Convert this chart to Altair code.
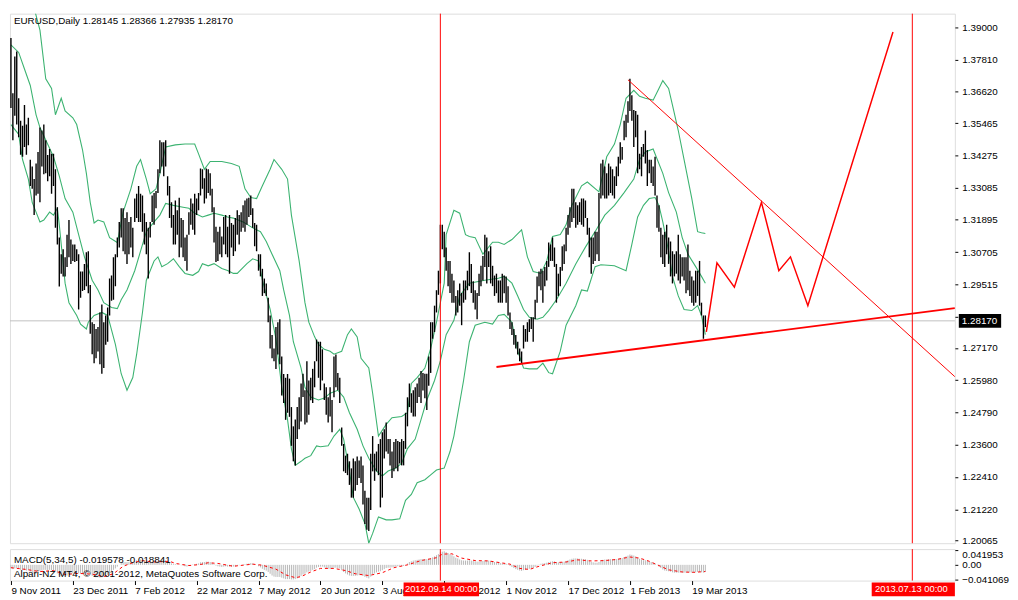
import altair as alt
import pandas as pd

TITLE = "EURUSD,Daily  1.28145 1.28366 1.27935 1.28170"
MACD_TITLE = "MACD(5,34,5) -0.019578 -0.018841"
COPYRIGHT = "Alpari-NZ MT4, \u00a9 2001-2012, MetaQuotes Software Corp."

# daily bars (bar index 0 = 9 Nov 2011)
HIGH = [1.3860, 1.3656, 1.3792, 1.3810, 1.3638, 1.3555, 1.3537, 1.3613, 1.3541, 1.3566,
        1.3411, 1.3386, 1.3340, 1.3397, 1.3440, 1.3530, 1.3519, 1.3541, 1.3483, 1.3429,
        1.3451, 1.3433, 1.3433, 1.3376, 1.3236, 1.3124, 1.3063, 1.3081, 1.3052, 1.3135,
        1.3189, 1.3117, 1.3099, 1.3099, 1.3081, 1.3063, 1.2999, 1.2999, 1.3027, 1.3070,
        1.3074, 1.2949, 1.2812, 1.2805, 1.2787, 1.2794, 1.2848, 1.2877, 1.2812, 1.2837,
        1.2866, 1.2973, 1.2984, 1.3052, 1.3063, 1.3124, 1.3182, 1.3232, 1.3232, 1.3196,
        1.3218, 1.3182, 1.3200, 1.3160, 1.3268, 1.3286, 1.3314, 1.3286, 1.3279, 1.3214,
        1.3182, 1.3160, 1.3182, 1.3279, 1.3289, 1.3296, 1.3376, 1.3483, 1.3476, 1.3476,
        1.3483, 1.3350, 1.3314, 1.3254, 1.3207, 1.3261, 1.3225, 1.3271, 1.3196, 1.3189,
        1.3124, 1.3135, 1.3218, 1.3268, 1.3250, 1.3286, 1.3268, 1.3289, 1.3379, 1.3376,
        1.3343, 1.3379, 1.3376, 1.3361, 1.3304, 1.3236, 1.3164, 1.3146, 1.3164, 1.3128,
        1.3200, 1.3207, 1.3164, 1.3207, 1.3178, 1.3171, 1.3196, 1.3225, 1.3207, 1.3218,
        1.3243, 1.3261, 1.3268, 1.3271, 1.3279, 1.3232, 1.3178, 1.3171, 1.3063, 1.3063,
        1.3009, 1.2973, 1.2955, 1.2902, 1.2837, 1.2765, 1.2715, 1.2794, 1.2812, 1.2823,
        1.2686, 1.2621, 1.2607, 1.2621, 1.2604, 1.2499, 1.2428, 1.2453, 1.2499, 1.2535,
        1.2586, 1.2622, 1.2561, 1.2668, 1.2597, 1.2607, 1.2640, 1.2668, 1.2748, 1.2740,
        1.2740, 1.2712, 1.2586, 1.2572, 1.2535, 1.2572, 1.2525, 1.2686, 1.2693, 1.2625,
        1.2607, 1.2424, 1.2363, 1.2320, 1.2327, 1.2299, 1.2273, 1.2309, 1.2299, 1.2317,
        1.2302, 1.2317, 1.2284, 1.2190, 1.2165, 1.2165, 1.2327, 1.2392, 1.2327, 1.2335,
        1.2363, 1.2381, 1.2406, 1.2417, 1.2442, 1.2381, 1.2381, 1.2335, 1.2370, 1.2381,
        1.2374, 1.2370, 1.2381, 1.2374, 1.2478, 1.2535, 1.2586, 1.2550, 1.2561, 1.2572,
        1.2586, 1.2607, 1.2632, 1.2625, 1.2622, 1.2622, 1.2686, 1.2812, 1.2812, 1.2873,
        1.2930, 1.3002, 1.3171, 1.3171, 1.3146, 1.3088, 1.3038, 1.3038, 1.2991, 1.2966,
        1.2909, 1.2930, 1.2955, 1.2920, 1.2966, 1.2966, 1.3002, 1.3070, 1.3027, 1.2963,
        1.2930, 1.2920, 1.2991, 1.3020, 1.3056, 1.3135, 1.3124, 1.3074, 1.3092, 1.3020,
        1.2984, 1.2991, 1.2966, 1.2966, 1.2991, 1.2984, 1.2981, 1.2945, 1.2848, 1.2812,
        1.2787, 1.2765, 1.2740, 1.2715, 1.2704, 1.2801, 1.2787, 1.2812, 1.2823, 1.2830,
        1.2830, 1.2895, 1.2981, 1.2999, 1.3009, 1.3002, 1.3016, 1.3038, 1.3106, 1.3099,
        1.3124, 1.3088, 1.3027, 1.2991, 1.3016, 1.3092, 1.3099, 1.3160, 1.3207, 1.3236,
        1.3304, 1.3304, 1.3254, 1.3243, 1.3254, 1.3268, 1.3268, 1.3261, 1.3196, 1.3160,
        1.3124, 1.3124, 1.3146, 1.3146, 1.3289, 1.3397, 1.3411, 1.3386, 1.3361, 1.3397,
        1.3386, 1.3376, 1.3350, 1.3386, 1.3422, 1.3476, 1.3458, 1.3555, 1.3577, 1.3627,
        1.3710, 1.3649, 1.3595, 1.3591, 1.3577, 1.3433, 1.3458, 1.3469, 1.3519, 1.3447,
        1.3411, 1.3411, 1.3386, 1.3422, 1.3279, 1.3243, 1.3160, 1.3135, 1.3146, 1.3171,
        1.3124, 1.3110, 1.3074, 1.3063, 1.3074, 1.3135, 1.3063, 1.3052, 1.3052, 1.3052,
        1.3099, 1.3002, 1.2981, 1.2966, 1.3002, 1.3002, 1.3038, 1.2884, 1.2837, 1.2837]
LOW = [1.3602, 1.3483, 1.3573, 1.3541, 1.3494, 1.3430, 1.3422, 1.3458, 1.3430, 1.3465,
       1.3314, 1.3304, 1.3207, 1.3279, 1.3286, 1.3254, 1.3386, 1.3358, 1.3361, 1.3332,
       1.3350, 1.3286, 1.3314, 1.3160, 1.3099, 1.2944, 1.2991, 1.2981, 1.2981, 1.3016,
       1.3052, 1.3027, 1.3038, 1.3034, 1.3038, 1.2859, 1.2902, 1.2927, 1.2931, 1.2945,
       1.2919, 1.2769, 1.2694, 1.2661, 1.2679, 1.2704, 1.2657, 1.2622, 1.2643, 1.2729,
       1.2740, 1.2837, 1.2891, 1.2895, 1.2945, 1.3052, 1.3088, 1.3124, 1.3074, 1.3063,
       1.3027, 1.3063, 1.3088, 1.3052, 1.3182, 1.3196, 1.3182, 1.3182, 1.3146, 1.3099,
       1.3063, 1.2973, 1.3124, 1.3182, 1.3171, 1.3232, 1.3289, 1.3361, 1.3386, 1.3350,
       1.3386, 1.3279, 1.3196, 1.3160, 1.3099, 1.3099, 1.3135, 1.3052, 1.3088, 1.3052,
       1.3038, 1.3002, 1.3135, 1.3171, 1.3153, 1.3135, 1.3207, 1.3225, 1.3279, 1.3304,
       1.3250, 1.3268, 1.3289, 1.3279, 1.3218, 1.3106, 1.3034, 1.3038, 1.3063, 1.3052,
       1.3099, 1.3063, 1.3052, 1.2991, 1.3088, 1.3056, 1.3074, 1.3135, 1.3099, 1.3146,
       1.3160, 1.3146, 1.3171, 1.3200, 1.3207, 1.3160, 1.3092, 1.3074, 1.3002, 1.2981,
       1.2909, 1.2919, 1.2909, 1.2812, 1.2715, 1.2679, 1.2668, 1.2639, 1.2693, 1.2657,
       1.2542, 1.2514, 1.2452, 1.2478, 1.2463, 1.2356, 1.2299, 1.2284, 1.2381, 1.2417,
       1.2446, 1.2536, 1.2435, 1.2442, 1.2471, 1.2524, 1.2514, 1.2572, 1.2668, 1.2607,
       1.2561, 1.2597, 1.2525, 1.2471, 1.2442, 1.2464, 1.2406, 1.2535, 1.2572, 1.2561,
       1.2514, 1.2356, 1.2262, 1.2256, 1.2248, 1.2212, 1.2165, 1.2165, 1.2190, 1.2212,
       1.2237, 1.2219, 1.2140, 1.2068, 1.2047, 1.2042, 1.2119, 1.2262, 1.2227, 1.2262,
       1.2248, 1.2129, 1.2165, 1.2309, 1.2335, 1.2327, 1.2284, 1.2237, 1.2262, 1.2273,
       1.2262, 1.2291, 1.2284, 1.2284, 1.2345, 1.2428, 1.2499, 1.2478, 1.2464, 1.2464,
       1.2514, 1.2536, 1.2514, 1.2560, 1.2532, 1.2488, 1.2578, 1.2625, 1.2751, 1.2776,
       1.2848, 1.2913, 1.2955, 1.3081, 1.3052, 1.3002, 1.2945, 1.2920, 1.2884, 1.2884,
       1.2837, 1.2848, 1.2873, 1.2801, 1.2884, 1.2895, 1.2930, 1.2945, 1.2920, 1.2884,
       1.2859, 1.2823, 1.2909, 1.2945, 1.2966, 1.3016, 1.2955, 1.3016, 1.2955, 1.2945,
       1.2909, 1.2919, 1.2884, 1.2884, 1.2884, 1.2919, 1.2884, 1.2837, 1.2787, 1.2765,
       1.2729, 1.2715, 1.2693, 1.2668, 1.2661, 1.2715, 1.2740, 1.2740, 1.2776, 1.2787,
       1.2740, 1.2823, 1.2884, 1.2945, 1.2930, 1.2884, 1.2945, 1.2966, 1.3016, 1.3038,
       1.3038, 1.3016, 1.2884, 1.2909, 1.2945, 1.3002, 1.3027, 1.3074, 1.3135, 1.3160,
       1.3182, 1.3196, 1.3160, 1.3171, 1.3182, 1.3171, 1.3164, 1.3196, 1.3135, 1.3052,
       1.2991, 1.3027, 1.3038, 1.3063, 1.3038, 1.3268, 1.3279, 1.3268, 1.3268, 1.3279,
       1.3289, 1.3279, 1.3268, 1.3314, 1.3350, 1.3397, 1.3411, 1.3483, 1.3494, 1.3548,
       1.3591, 1.3555, 1.3458, 1.3494, 1.3361, 1.3376, 1.3350, 1.3422, 1.3397, 1.3314,
       1.3361, 1.3325, 1.3314, 1.3279, 1.3160, 1.3146, 1.3052, 1.3027, 1.3016, 1.3063,
       1.3027, 1.2981, 1.2955, 1.2981, 1.2991, 1.2966, 1.2955, 1.2981, 1.2966, 1.2919,
       1.2930, 1.2909, 1.2884, 1.2873, 1.2884, 1.2909, 1.2873, 1.2837, 1.2751, 1.2794]

# Bollinger bands read at sample bars
UP_I = [0, 6, 11, 15, 18, 21, 23, 26, 28, 32, 34, 37, 39, 41, 43, 45, 48, 51, 55, 58,
        62, 65, 67, 70, 72, 75, 77, 80, 85, 90, 95, 97, 100, 103, 109, 114, 118, 121, 124, 127,
        130, 134, 136, 140, 143, 145, 149, 152, 154, 157, 159, 162, 165, 167, 171, 174, 176, 179, 181, 185,
        187, 190, 194, 197, 202, 205, 207, 210, 214, 217, 220, 224, 225, 229, 232, 235, 237, 240, 244, 249,
        252, 255, 259, 264, 267, 270, 274, 277, 280, 284, 287, 290, 295, 298, 304, 308, 312, 315, 318, 322,
        325, 328, 332, 335, 337, 340, 342, 345, 348, 352, 355, 357, 359]
UP_V = [1.4176, 1.4087, 1.3997, 1.3889, 1.3710, 1.3674, 1.3577, 1.3638, 1.3591, 1.3566,
        1.3541, 1.3448, 1.3361, 1.3254, 1.3178, 1.3189, 1.3182, 1.3124, 1.3106, 1.3218,
        1.3304, 1.3387, 1.3412, 1.3340, 1.3286, 1.3304, 1.3361, 1.3458, 1.3466, 1.3469,
        1.3469, 1.3433, 1.3376, 1.3405, 1.3405, 1.3397, 1.3387, 1.3304, 1.3272, 1.3268,
        1.3315, 1.3376, 1.3412, 1.3376, 1.3340, 1.3207, 1.3038, 1.2884, 1.2812, 1.2758,
        1.2730, 1.2712, 1.2705, 1.2694, 1.2705, 1.2766, 1.2787, 1.2758, 1.2679, 1.2643,
        1.2550, 1.2392, 1.2435, 1.2460, 1.2464, 1.2478, 1.2586, 1.2608, 1.2643, 1.2715,
        1.2812, 1.2956, 1.3135, 1.3225, 1.3214, 1.3135, 1.3128, 1.3124, 1.3063, 1.3107,
        1.3107, 1.3099, 1.3117, 1.3153, 1.3053, 1.2999, 1.2992, 1.3038, 1.3128, 1.3135,
        1.3171, 1.3243, 1.3315, 1.3329, 1.3293, 1.3422, 1.3469, 1.3541, 1.3638, 1.3667,
        1.3645, 1.3638, 1.3631, 1.3674, 1.3703, 1.3674, 1.3613, 1.3519, 1.3412, 1.3268,
        1.3146, 1.3142, 1.3139]
MID_I = [0, 4, 7, 10, 13, 15, 18, 22, 25, 28, 32, 35, 38, 42, 45, 48, 52, 55, 57, 60,
         64, 67, 70, 74, 77, 80, 84, 89, 92, 95, 99, 102, 105, 109, 112, 115, 120, 125, 129, 132,
         135, 139, 141, 144, 146, 150, 152, 155, 159, 162, 165, 169, 172, 175, 179, 182, 185, 189, 192, 195,
         199, 202, 205, 209, 212, 215, 219, 222, 225, 229, 232, 237, 245, 252, 255, 259, 262, 265, 268, 272,
         275, 278, 282, 287, 292, 297, 302, 307, 312, 317, 322, 325, 328, 332, 337, 340, 344, 347, 350, 354,
         357, 359]
MID_V = [1.3835, 1.3807, 1.3746, 1.3685, 1.3577, 1.3530, 1.3484, 1.3422, 1.3351, 1.3268,
         1.3218, 1.3135, 1.3053, 1.2967, 1.2931, 1.2884, 1.2866, 1.2862, 1.2895, 1.2931,
         1.3002, 1.3074, 1.3146, 1.3182, 1.3207, 1.3250, 1.3243, 1.3236, 1.3232, 1.3214,
         1.3200, 1.3207, 1.3214, 1.3207, 1.3200, 1.3196, 1.3182, 1.3160, 1.3146, 1.3110,
         1.3063, 1.3002, 1.2931, 1.2837, 1.2740, 1.2643, 1.2572, 1.2536, 1.2525, 1.2532,
         1.2550, 1.2561, 1.2536, 1.2478, 1.2417, 1.2356, 1.2310, 1.2263, 1.2245, 1.2263,
         1.2274, 1.2292, 1.2346, 1.2381, 1.2453, 1.2525, 1.2597, 1.2669, 1.2766, 1.2819,
         1.2909, 1.2956, 1.2967, 1.2974, 1.2981, 1.2956, 1.2909, 1.2859, 1.2830, 1.2823,
         1.2830, 1.2855, 1.2895, 1.2956, 1.3027, 1.3089, 1.3146, 1.3207, 1.3243, 1.3290,
         1.3340, 1.3412, 1.3440, 1.3451, 1.3361, 1.3290, 1.3218, 1.3125, 1.3063, 1.3017,
         1.2981, 1.2956]
LO_I = [0, 4, 6, 9, 11, 13, 15, 17, 20, 22, 24, 25, 28, 30, 34, 36, 39, 40, 43, 47,
        50, 54, 57, 60, 63, 65, 68, 70, 74, 76, 78, 81, 84, 87, 90, 94, 97, 99, 102, 105,
        109, 112, 115, 117, 122, 125, 128, 130, 134, 137, 140, 143, 145, 147, 150, 152, 155, 158, 160, 164,
        167, 170, 172, 175, 177, 180, 183, 185, 187, 190, 194, 197, 201, 204, 207, 210, 214, 217, 220, 224,
        227, 229, 234, 237, 240, 245, 249, 252, 255, 259, 262, 265, 268, 272, 275, 278, 280, 284, 287, 292,
        295, 298, 302, 305, 312, 318, 321, 324, 327, 330, 333, 335, 337, 340, 342, 345, 348, 352, 355, 357,
        359]
LO_V = [1.3541, 1.3505, 1.3412, 1.3340, 1.3254, 1.3218, 1.3182, 1.3189, 1.3218, 1.3207,
        1.3232, 1.3171, 1.2956, 1.2884, 1.2837, 1.2805, 1.2787, 1.2812, 1.2837, 1.2848,
        1.2837, 1.2730, 1.2622, 1.2561, 1.2608, 1.2694, 1.2848, 1.2967, 1.3038, 1.3053,
        1.3017, 1.3028, 1.3046, 1.3017, 1.2992, 1.2985, 1.2999, 1.3028, 1.3020, 1.3028,
        1.3010, 1.3003, 1.2992, 1.2992, 1.3028, 1.3046, 1.3038, 1.2967, 1.2859, 1.2751,
        1.2572, 1.2453, 1.2345, 1.2284, 1.2299, 1.2310, 1.2320, 1.2356, 1.2353, 1.2356,
        1.2392, 1.2417, 1.2381, 1.2263, 1.2166, 1.2123, 1.2069, 1.1997, 1.2033, 1.2094,
        1.2083, 1.2083, 1.2087, 1.2155, 1.2177, 1.2220, 1.2231, 1.2249, 1.2267, 1.2274,
        1.2335, 1.2392, 1.2597, 1.2740, 1.2801, 1.2812, 1.2805, 1.2837, 1.2841, 1.2812,
        1.2705, 1.2643, 1.2640, 1.2640, 1.2661, 1.2626, 1.2622, 1.2705, 1.2801, 1.2873,
        1.2931, 1.2927, 1.3017, 1.3024, 1.3020, 1.3002, 1.3099, 1.3200, 1.3243, 1.3268,
        1.3272, 1.3243, 1.3182, 1.3074, 1.2981, 1.2909, 1.2859, 1.2855, 1.2873, 1.2837,
        1.2766]

# drawn objects
TREND_UP_I = [319, 488]
TREND_UP_V = [1.3706, 1.2611]
TREND_LO_I = [251, 488]
TREND_LO_V = [1.2647, 1.2864]
ZZ_I = [359.5, 365, 374, 388, 397, 403, 412, 456]
ZZ_V = [1.2776, 1.3031, 1.2941, 1.3254, 1.3002, 1.3053, 1.2873, 1.3882]
VLINE_I = [222, 466]
BID = 1.28170

# MACD histogram (main line) and signal
HIST = [-0.010, -0.012, -0.010, -0.009, -0.011, -0.014, -0.015, -0.014, -0.016, -0.015,
        -0.019, -0.022, -0.025, -0.024, -0.022, -0.018, -0.016, -0.014, -0.014, -0.015,
        -0.014, -0.015, -0.015, -0.019, -0.024, -0.029, -0.031, -0.031, -0.031, -0.030,
        -0.026, -0.025, -0.024, -0.023, -0.022, -0.024, -0.025, -0.025, -0.024, -0.022,
        -0.022, -0.026, -0.031, -0.034, -0.035, -0.035, -0.036, -0.035, -0.034, -0.031,
        -0.028, -0.022, -0.018, -0.014, -0.010, -0.005, 0.000, 0.005, 0.007, 0.008,
        0.008, 0.008, 0.008, 0.008, 0.011, 0.013, 0.015, 0.015, 0.014, 0.012,
        0.009, 0.006, 0.006, 0.008, 0.009, 0.010, 0.011, 0.013, 0.014, 0.014,
        0.013, 0.010, 0.007, 0.004, 0.002, 0.002, 0.001, 0.000, -0.001, -0.002,
        -0.004, -0.005, -0.003, 0.000, 0.001, 0.002, 0.003, 0.004, 0.007, 0.008,
        0.008, 0.009, 0.009, 0.008, 0.006, 0.002, -0.002, -0.004, -0.005, -0.006,
        -0.005, -0.004, -0.005, -0.005, -0.005, -0.005, -0.004, -0.002, -0.001, 0.000,
        0.001, 0.002, 0.003, 0.004, 0.005, 0.004, 0.002, 0.000, -0.004, -0.007,
        -0.011, -0.014, -0.016, -0.020, -0.025, -0.030, -0.033, -0.034, -0.034, -0.034,
        -0.036, -0.038, -0.040, -0.040, -0.040, -0.041, -0.041, -0.040, -0.038, -0.035,
        -0.031, -0.027, -0.025, -0.021, -0.019, -0.017, -0.014, -0.012, -0.008, -0.006,
        -0.005, -0.005, -0.007, -0.009, -0.011, -0.012, -0.010, -0.008, -0.008, -0.009,
        -0.010, -0.015, -0.020, -0.024, -0.027, -0.030, -0.031, -0.031, -0.031, -0.030,
        -0.029, -0.029, -0.031, -0.034, -0.036, -0.038, -0.033, -0.027, -0.024, -0.021,
        -0.019, -0.018, -0.015, -0.012, -0.009, -0.008, -0.008, -0.007, -0.006, -0.005,
        -0.004, -0.003, -0.003, -0.003, 0.000, 0.004, 0.008, 0.010, 0.012, 0.013,
        0.014, 0.015, 0.016, 0.016, 0.016, 0.016, 0.017, 0.019, 0.021, 0.024,
        0.027, 0.030, 0.035, 0.037, 0.038, 0.036, 0.033, 0.030, 0.027, 0.024,
        0.020, 0.018, 0.015, 0.013, 0.012, 0.012, 0.012, 0.013, 0.012, 0.011,
        0.010, 0.009, 0.009, 0.010, 0.011, 0.012, 0.012, 0.012, 0.011, 0.010,
        0.008, 0.007, 0.006, 0.005, 0.004, 0.004, 0.003, 0.001, -0.003, -0.006,
        -0.009, -0.012, -0.014, -0.016, -0.017, -0.015, -0.014, -0.012, -0.011, -0.010,
        -0.009, -0.006, -0.002, 0.001, 0.003, 0.004, 0.005, 0.006, 0.008, 0.009,
        0.010, 0.010, 0.008, 0.007, 0.007, 0.008, 0.009, 0.011, 0.013, 0.015,
        0.017, 0.018, 0.018, 0.018, 0.017, 0.017, 0.016, 0.016, 0.014, 0.011,
        0.008, 0.007, 0.006, 0.006, 0.008, 0.012, 0.014, 0.015, 0.015, 0.016,
        0.016, 0.016, 0.016, 0.016, 0.017, 0.019, 0.019, 0.022, 0.024, 0.026,
        0.029, 0.028, 0.026, 0.024, 0.020, 0.017, 0.015, 0.013, 0.013, 0.011,
        0.009, 0.008, 0.006, 0.004, 0.000, -0.005, -0.009, -0.013, -0.016, -0.017,
        -0.018, -0.019, -0.021, -0.022, -0.022, -0.022, -0.022, -0.022, -0.022, -0.022,
        -0.021, -0.021, -0.022, -0.022, -0.021, -0.020, -0.020, -0.021, -0.022, -0.0196]
SIG_I = [0, 8, 15, 22, 28, 35, 42, 48, 53, 58, 63, 68, 73, 78, 82, 85, 92, 98, 102, 107,
         115, 125, 130, 137, 142, 147, 150, 155, 160, 167, 173, 178, 185, 192, 198, 205, 212, 220, 223, 228,
         233, 240, 247, 253, 258, 263, 268, 273, 280, 287, 293, 300, 307, 313, 320, 325, 330, 335, 340, 347,
         353, 359]
SIG_V = [-0.008, -0.013, -0.019, -0.016, -0.027, -0.024, -0.026, -0.033, -0.025, -0.004,
         0.006, 0.012, 0.008, 0.009, 0.010, 0.004, -0.002, 0.001, 0.006, 0.004,
         -0.004, 0.002, -0.001, -0.012, -0.028, -0.036, -0.033, -0.020, -0.010, -0.010,
         -0.016, -0.025, -0.030, -0.022, -0.008, 0.000, 0.012, 0.020, 0.030, 0.031,
         0.019, 0.012, 0.011, 0.006, 0.002, -0.010, -0.013, -0.004, 0.006, 0.008,
         0.014, 0.011, 0.012, 0.015, 0.022, 0.019, 0.010, -0.002, -0.014, -0.020,
         -0.021, -0.0188]

Y_TICKS = [1.39000, 1.37810, 1.36620, 1.35465, 1.34275, 1.33085, 1.31895, 1.30705, 1.29515,
           1.28325, 1.27170, 1.25980, 1.24790, 1.23600, 1.22410, 1.21220, 1.20065]
MACD_TICKS = [0.041953, 0.0, -0.041069]
DATE_IDX = [0, 32, 64, 96, 128, 160, 192, 224, 256, 288, 320, 352]
DATE_LBL = ["9 Nov 2011", "23 Dec 2011", "7 Feb 2012", "22 Mar 2012", "7 May 2012", "20 Jun 2012",
            "3 Aug 2012", "18 Sep 2012", "1 Nov 2012", "17 Dec 2012", "1 Feb 2013", "19 Mar 2013"]
BOX_FROM = [203, 445]
BOX_TO = [242, 488]
BOX_MID = [222.5, 465.5]
BOX_TXT = ["2012.09.14 00:00", "2013.07.13 00:00"]

FONT = "Liberation Sans"
W, H, H2 = 960, 538, 32
XS = alt.Scale(domain=[-0.5, 488], nice=False, zero=False)
YS = alt.Scale(domain=[1.1997, 1.3950], nice=False, zero=False)
MS = alt.Scale(domain=[-0.0442, 0.0442], nice=False, zero=False)

Y_AXIS = alt.Axis(orient="right", values=Y_TICKS, format=".5f", tickSize=3, tickColor="black",
                  labelPadding=4, labelFontSize=10, labelColor="black", labelFont=FONT,
                  domain=False, grid=False, labelOverlap=False)
M_AXIS = alt.Axis(orient="right", values=MACD_TICKS,
                  labelExpr="datum.value == 0 ? '0.00' : format(datum.value, '.6f')",
                  labelFlush=True, tickSize=3, tickColor="black", labelPadding=4, labelFontSize=10,
                  labelColor="black", labelFont=FONT, domain=False, grid=False, labelOverlap=False)
lbl_js = "[" + ",".join("'%s'" % s for s in DATE_LBL) + "][round(datum.value/32)]"
XM_AXIS = alt.Axis(values=DATE_IDX, labelExpr=lbl_js, labelAlign="left", tickSize=4,
                   tickColor="black", labelPadding=1, labelFontSize=10, labelColor="black",
                   labelFont=FONT, domain=False, grid=False, labelOverlap=False)


def xm(field):
    return alt.X(field, scale=XS, axis=None, title=None)


def ym(field):
    return alt.Y(field, scale=YS, axis=Y_AXIS, title=None)


bars_df = pd.DataFrame({"i": list(range(len(HIGH))), "h": HIGH, "l": LOW})
bands_df = pd.concat([
    pd.DataFrame({"i": UP_I, "v": UP_V, "b": "up"}),
    pd.DataFrame({"i": MID_I, "v": MID_V, "b": "mid"}),
    pd.DataFrame({"i": LO_I, "v": LO_V, "b": "lo"}),
])
up_df = pd.DataFrame({"i": TREND_UP_I, "v": TREND_UP_V})
lo_df = pd.DataFrame({"i": TREND_LO_I, "v": TREND_LO_V})
zz_df = pd.DataFrame({"i": ZZ_I, "v": ZZ_V})
vl_df = pd.DataFrame({"i": VLINE_I})

bid = alt.Chart(pd.DataFrame({"p": [BID]})).mark_rule(color="#c0c0c0", strokeWidth=1).encode(y=ym("p:Q"))
bands = alt.Chart(bands_df).mark_line(color="#3cb371", strokeWidth=1.1, clip=True).encode(
    x=xm("i:Q"), y=ym("v:Q"), detail="b:N", order="i:Q")
bars = alt.Chart(bars_df).mark_rule(color="black", strokeWidth=1.4, clip=True).encode(
    x=xm("i:Q"), y=ym("l:Q"), y2="h:Q")
vlines = alt.Chart(vl_df).mark_rule(color="#ff0000", strokeWidth=1).encode(x=xm("i:Q"))
tr_up = alt.Chart(up_df).mark_line(color="#ff0000", strokeWidth=1, clip=True).encode(x=xm("i:Q"), y=ym("v:Q"))
tr_lo = alt.Chart(lo_df).mark_line(color="#ff0000", strokeWidth=2, clip=True).encode(x=xm("i:Q"), y=ym("v:Q"))
zz = alt.Chart(zz_df).mark_line(color="#ff0000", strokeWidth=1.5, clip=True).encode(x=xm("i:Q"), y=ym("v:Q"))
title = alt.Chart(pd.DataFrame({"t": [TITLE]})).mark_text(
    align="left", baseline="middle", fontSize=10, color="black", font=FONT).encode(
    x=alt.value(4), y=alt.value(8), text="t:N")
pbox = alt.Chart(pd.DataFrame({"a": [BID - 0.0025], "b": [BID + 0.0025]})).mark_rect(color="black").encode(
    x=alt.value(W + 4), x2=alt.value(W + 47), y=ym("a:Q"), y2="b:Q")
ptxt = alt.Chart(pd.DataFrame({"p": [BID], "t": ["%.5f" % BID]})).mark_text(
    align="left", baseline="middle", fontSize=10, color="white", font=FONT).encode(
    x=alt.value(W + 7), y=ym("p:Q"), text="t:N")

main = alt.layer(bid, bands, bars, vlines, tr_up, tr_lo, zz, title, pbox, ptxt).properties(width=W, height=H)


def xx(field):
    return alt.X(field, scale=XS, axis=XM_AXIS, title=None)


def yy(field):
    return alt.Y(field, scale=MS, axis=M_AXIS, title=None)


hist_df = pd.DataFrame({"i": list(range(len(HIST))), "v": HIST, "z": 0.0})
sig_df = pd.DataFrame({"i": SIG_I, "v": SIG_V})
box_df = pd.DataFrame({"a": BOX_FROM, "b": BOX_TO, "m": BOX_MID, "t": BOX_TXT})

hist = alt.Chart(hist_df).mark_rule(color="#b8b8b8", strokeWidth=1).encode(x=xx("i:Q"), y=yy("z:Q"), y2="v:Q")
sig = alt.Chart(sig_df).mark_line(color="#ff0000", strokeWidth=1, strokeDash=[3, 3]).encode(x=xx("i:Q"), y=yy("v:Q"))
mvl = alt.Chart(vl_df).mark_rule(color="#ff0000", strokeWidth=1).encode(x=xx("i:Q"))
mtxt = alt.Chart(pd.DataFrame({"t": [MACD_TITLE, COPYRIGHT], "y": [11, 25]})).mark_text(
    align="left", baseline="middle", fontSize=10, color="black", font=FONT).encode(
    x=alt.value(4), y=alt.Y("y:Q", scale=None), text="t:N")
boxes = alt.Chart(box_df).mark_rect(color="#ff0000").encode(
    x=xx("a:Q"), x2="b:Q", y=alt.value(H2 + 2), y2=alt.value(H2 + 16))
boxt = alt.Chart(box_df).mark_text(align="center", baseline="middle", fontSize=9.5, color="white", font=FONT).encode(
    x=xx("m:Q"), y=alt.value(H2 + 9), text="t:N")

macd = alt.layer(hist, sig, mvl, mtxt, boxes, boxt).properties(width=W, height=H2)

chart = alt.vconcat(main, macd, spacing=2).properties(
    padding={"left": 0, "top": 0, "right": 0, "bottom": 0}
).configure_view(stroke="black", strokeWidth=1).configure(font=FONT)

chart.save("out.html", embed_options={"renderer": "svg", "actions": False})
